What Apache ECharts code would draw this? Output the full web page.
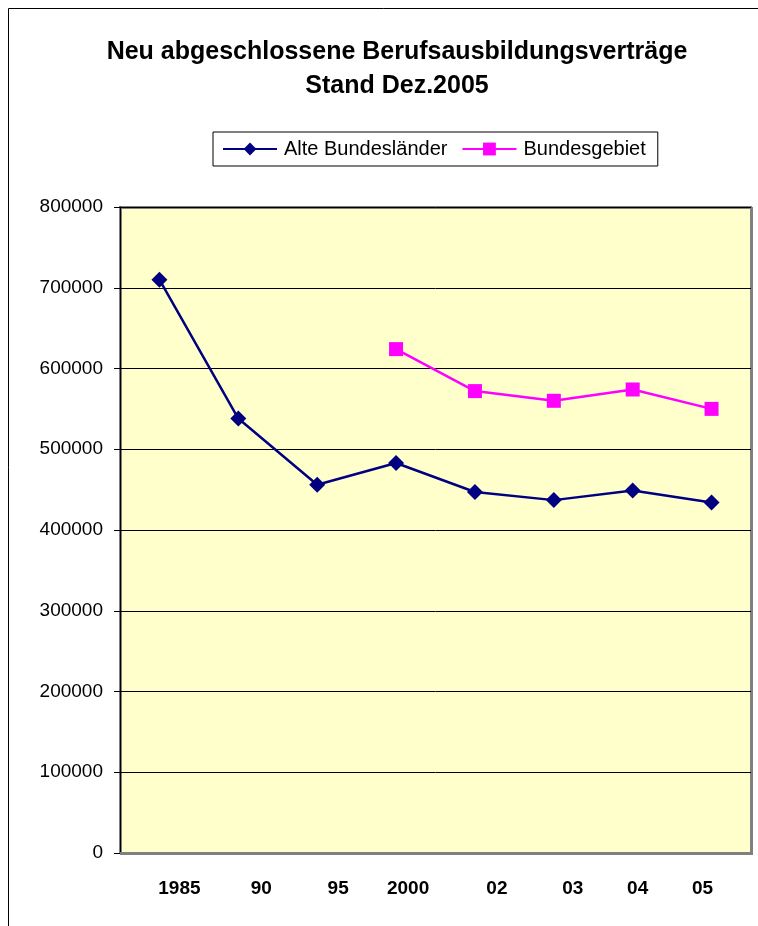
<!DOCTYPE html>
<html><head><meta charset="utf-8">
<script src="https://cdn.jsdelivr.net/npm/echarts@6/dist/echarts.min.js"></script>
<style>html,body{margin:0;padding:0;background:#fff}#c{width:758px;height:926px}</style>
</head><body><div id="c"></div>
<script>
const categories = ['1985', '90', '95', '2000', '02', '03', '04', '05'];
const alteBundeslaender = [710000, 538000, 456000, 483000, 447000, 437000, 449000, 434000];
const bundesgebiet = [null, null, null, 624000, 572000, 560000, 574000, 550000];
const yTicks = [0, 100000, 200000, 300000, 400000, 500000, 600000, 700000, 800000];

// horizontal shift of each x label relative to its category centre (px)
const labelShift = [20, 23, 21, 12, 22, 19, 5, -9];

const font = 'Liberation Sans, Arial, sans-serif';
const chart = echarts.init(document.getElementById('c'));
chart.setOption({
  animation: false,
  backgroundColor: '#fff',
  graphic: [{
    type: 'rect', shape: {x: 8.5, y: 8.5, width: 800, height: 1000},
    style: {fill: 'none', stroke: '#000', lineWidth: 1}, silent: true, z: -1
  }],
  title: {
    text: 'Neu abgeschlossene Berufsausbildungsverträge\nStand Dez.2005',
    left: 392, top: 30, textAlign: 'center',
    textStyle: {fontFamily: font, fontSize: 25, fontWeight: 'bold', color: '#000', lineHeight: 34}
  },
  legend: {
    left: 213, top: 132,
    padding: [7, 12, 7, 9],
    backgroundColor: '#fff', borderColor: '#000', borderWidth: 1,
    itemWidth: 54, itemHeight: 16, itemGap: 14,
    textStyle: {fontFamily: font, fontSize: 20, color: '#000', padding: [0, 0, 0, 2]},
    data: ['Alte Bundesländer', 'Bundesgebiet']
  },
  grid: {
    left: 120, right: 7, top: 207, bottom: 73, show: true,
    backgroundColor: '#FFFFCC', borderColor: '#808080', borderWidth: 2,
    shadowColor: '#808080', shadowOffsetX: 1, shadowOffsetY: 1, shadowBlur: 0
  },
  xAxis: {
    type: 'category', boundaryGap: true,
    data: categories.map((c, i) => ({
      value: c,
      textStyle: {padding: labelShift[i] >= 0 ? [0, 0, 0, 2 * labelShift[i]] : [0, -2 * labelShift[i], 0, 0]}
    })),
    axisLine: {lineStyle: {color: '#808080', width: 2}},
    axisTick: {show: false},
    axisLabel: {fontFamily: font, fontSize: 19, fontWeight: 'bold', color: '#000', margin: 26, interval: 0}
  },
  yAxis: {
    type: 'value', min: yTicks[0], max: yTicks[yTicks.length - 1], interval: yTicks[1] - yTicks[0],
    axisLine: {show: true, lineStyle: {color: '#000', width: 1}},
    axisTick: {show: true, length: 6, lineStyle: {color: '#000'}},
    axisLabel: {fontFamily: font, fontSize: 19, color: '#000', margin: 17, formatter: v => String(v)},
    splitLine: {show: true, lineStyle: {color: '#000', width: 1}}
  },
  series: [{
    name: 'Alte Bundesländer', type: 'line', data: alteBundeslaender,
    symbol: 'diamond', symbolSize: 16,
    lineStyle: {color: '#000080', width: 2.5},
    itemStyle: {color: '#000080'}
  }, {
    name: 'Bundesgebiet', type: 'line', data: bundesgebiet,
    symbol: 'rect', symbolSize: 14, connectNulls: false,
    lineStyle: {color: '#FF00FF', width: 2.5},
    itemStyle: {color: '#FF00FF'}
  }]
});
</script></body></html>
